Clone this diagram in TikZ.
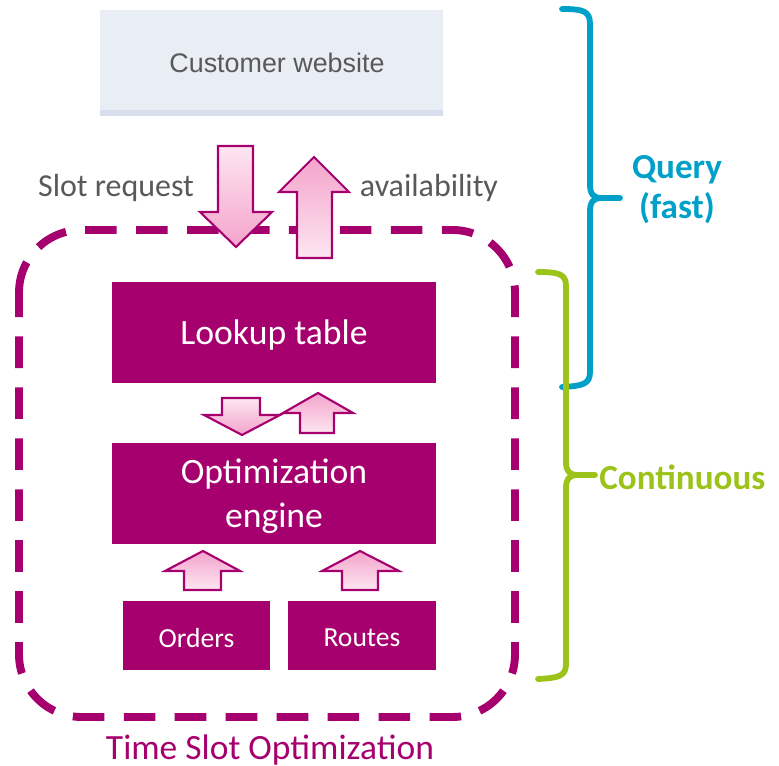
\documentclass[tikz,border=0pt]{standalone}
\usepackage{fontspec}
\setmainfont{Carlito}
\newfontfamily\arialf{Liberation Sans}
\definecolor{mag}{HTML}{A5006E}
\definecolor{webbg}{HTML}{E9EDF4}
\definecolor{webline}{HTML}{D6DFEB}
\definecolor{txtgray}{HTML}{595959}
\definecolor{qblue}{HTML}{00A0C8}
\definecolor{cgreen}{HTML}{9BC31A}
\definecolor{pkdark}{HTML}{F4A3CB}
\definecolor{pklight}{HTML}{FDE6F1}
\tikzset{
  magbox/.style={fill=mag, text=white, inner sep=0pt, align=center},
  downarr/.style={draw=mag, line width=1.2pt, line join=miter, top color=pklight, bottom color=pkdark},
  uparr/.style={draw=mag, line width=1.2pt, line join=miter, top color=pkdark, bottom color=pklight},
  brace/.style={line width=3.3pt, line cap=round, line join=round},
  graylabel/.style={text=txtgray, font=\fontsize{18.2}{22}\selectfont, inner sep=0pt}
}
\begin{document}
\begin{tikzpicture}[x=0.02cm, y=-0.02cm]
\useasboundingbox (0,0) rectangle (779,766);

% customer website
\node[fill=webbg, minimum width=6.86cm, minimum height=2cm, inner sep=0pt] (web) at (271.5,60) {};
\node[text=txtgray, font=\arialf\fontsize{15.3}{18}\selectfont, inner sep=0pt] (webtxt) at (277,63) {Customer website};
\fill[webline] (web.south west) rectangle ++(343,6);

% dashed container
\draw[mag, line width=4.5pt, rounded corners=1.25cm, dash pattern=on 18pt off 11pt, dash phase=4pt]
  (19,230) rectangle (515,717);
\node[text=mag, font=\fontsize{20.2}{24}\selectfont, inner sep=0pt] (tso) at (270,750) {Time Slot Optimization};

% boxes
\node[magbox, minimum width=6.48cm, minimum height=2.02cm] (lookup) at (274,332.5) {};
\node[text=white, font=\fontsize{20.3}{24}\selectfont, inner sep=0pt] (lookuptxt) at (274,335) {Lookup table};
\node[magbox, minimum width=6.48cm, minimum height=2.02cm] (engine) at (274,493.5) {};
\node[text=white, align=center, font=\fontsize{20.3}{25}\selectfont, inner sep=0pt] (enginetxt) at (274,496) {Optimization\\engine};
\node[magbox, minimum width=2.94cm, minimum height=1.38cm] (orders) at (196.5,635.5) {};
\node[text=white, font=\fontsize{15.7}{19}\selectfont, inner sep=0pt] (orderstxt) at (196.5,638) {Orders};
\node[magbox, minimum width=2.96cm, minimum height=1.38cm] (routes) at (362,635.5) {};
\node[text=white, font=\fontsize{15.7}{19}\selectfont, inner sep=0pt] (routestxt) at (362,638) {Routes};

% big arrows
\path[downarr] (218,146) -- (253,146) -- (253,212) -- (272,212) -- (236,247) -- (200,212) -- (218,212) -- cycle;
\path[uparr] (297,258) -- (332,258) -- (332,192) -- (349,192) -- (314,157) -- (279,192) -- (297,192) -- cycle;
\node[graylabel] (req) at (116,188) {Slot request};
\node[graylabel] (avail) at (429,188) {availability};

% small arrows between lookup and engine
\path[downarr] (222,398) -- (260,398) -- (260,415) -- (280,415) -- (242,435) -- (204,415) -- (222,415) -- cycle;
\path[uparr] (300,433) -- (334,433) -- (334,413) -- (353,413) -- (318,393) -- (283,413) -- (300,413) -- cycle;

% bottom arrows
\path[uparr] (184,590) -- (221,590) -- (221,571) -- (240,571) -- (203,551) -- (165,571) -- (184,571) -- cycle;
\path[uparr] (342,590) -- (378,590) -- (378,571) -- (399,571) -- (360,551) -- (322,571) -- (342,571) -- cycle;

% blue brace
\draw[qblue, brace] (562,9) .. controls (583,9) and (590,11) .. (590,24) -- (590,184)
  .. controls (590,194) and (593,198) .. (602,198) -- (620,198) -- (602,198)
  .. controls (593,198) and (590,202) .. (590,212) -- (590,372)
  .. controls (590,384) and (583,386) .. (562,387);
\node[text=qblue, font=\bfseries\fontsize{20}{22.7}\selectfont, align=center, inner sep=0pt] (query) at (677,190) {Query\\(fast)};

% green brace
\draw[cgreen, brace] (538,272) .. controls (559,272) and (566,274) .. (566,286) -- (566,462)
  .. controls (566,471) and (569,475) .. (578,475) -- (595,475) -- (578,475)
  .. controls (569,475) and (566,479) .. (566,488) -- (566,664)
  .. controls (566,676) and (559,678) .. (538,679);
\node[text=cgreen, font=\bfseries\fontsize{20}{24}\selectfont, anchor=west, inner sep=0pt] (cont) at (599,477) {Continuous};
\end{tikzpicture}
\end{document}
